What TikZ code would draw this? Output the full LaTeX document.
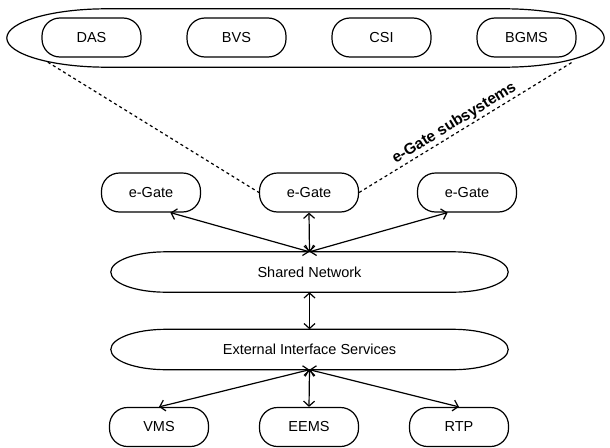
\documentclass[tikz,border=0pt]{standalone}
\usepackage{fontspec}
\setmainfont{Liberation Sans}
\usetikzlibrary{arrows.meta,calc}

% flattened oval round a node: #1 node, #2 length of the end caps
\newcommand{\flatoval}[2]{%
  \draw[line width=1.2pt] let \p1=(#1.north west), \p2=(#1.south east), \n1={(\y1-\y2)/2} in
    (\x1+#2pt,\y1) -- (\x2-#2pt,\y1)
    arc[start angle=90,end angle=-90,x radius=#2pt,y radius=\n1]
    -- (\x1+#2pt,\y2)
    arc[start angle=270,end angle=90,x radius=#2pt,y radius=\n1] -- cycle;}

\begin{document}
\begin{tikzpicture}[x=1pt,y=1pt,font=\fontsize{14.5}{17}\selectfont]
\useasboundingbox (0,0) rectangle (610,-447);

\begin{scope}[every node/.style={draw,line width=1.2pt,rounded corners=18pt,
                                 minimum width=99pt,minimum height=39pt}]
    \node (DAS)  at (91.5,-37.5)  {DAS};
    \node (BVS)  at (236.5,-37.5) {BVS};
    \node (CSI)  at (381.5,-37.5) {CSI};
    \node (BGMS) at (526.5,-37.5) {BGMS};
    \node (G1)   at (151,-192.5)  {e-Gate};
    \node (G2)   at (309,-192.5)  {e-Gate};
    \node (G3)   at (467,-192.5)  {e-Gate};
    \node (VMS)  at (159,-427)    {VMS};
    \node (EEMS) at (309,-427)    {EEMS};
    \node (RTP)  at (459,-427)    {RTP};
\end{scope}

\begin{scope}[every node/.style={minimum width=397pt,minimum height=40pt}]
    \node (SN)  at (309.5,-272)   {Shared Network};
    \node (EIS) at (309.5,-349.5) {External Interface Services};
\end{scope}
\node[minimum width=597pt,minimum height=58pt] (SUB) at (305.5,-38) {};

\flatoval{SUB}{100}
\flatoval{SN}{55}
\flatoval{EIS}{55}

\coordinate (SL) at ($(SUB.south west)+(41,5)$);
\coordinate (SR) at ($(SUB.south east)+(-32,5)$);

\begin{scope}[>={Straight Barb[length=5pt,width=11pt]},
              every edge/.style={draw,line width=1.2pt}]
    % e-Gate subsystems
    \path (SL) edge[dashed,dash pattern=on 3pt off 3pt] (G2.west);
    \path (G2.east) edge[dashed,dash pattern=on 3pt off 3pt]
        node[sloped,above,pos=0.47,inner sep=1.5pt,font=\fontsize{15.5}{18}\selectfont\bfseries] {e-Gate subsystems} (SR);
    % network
    \path [<->] (G1.-46)  edge (SN.north);
    \path [<->] (G2.south) edge (SN.north);
    \path [<->] (G3.-134) edge (SN.north);
    \path [<->] (SN.south) edge (EIS.north);
    % external
    \path [<->] (EIS.south) edge (VMS.north);
    \path [<->] (EIS.south) edge (EEMS.north);
    \path [<->] (EIS.south) edge (RTP.north);
\end{scope}
\end{tikzpicture}
\end{document}
